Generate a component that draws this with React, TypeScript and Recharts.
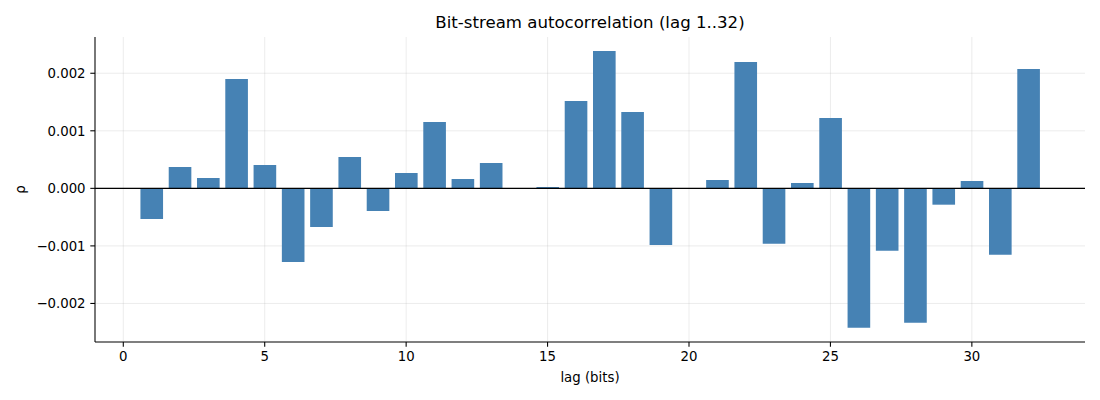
import React from 'react';
import { BarChart, Bar, XAxis, YAxis, CartesianGrid, ReferenceLine } from 'recharts';

const lags = [1, 2, 3, 4, 5, 6, 7, 8, 9, 10, 11, 12, 13, 14, 15, 16, 17, 18, 19, 20, 21, 22, 23, 24, 25, 26, 27, 28, 29, 30, 31, 32];
const rho = [
  -0.000533, 0.000371, 0.00018, 0.001901, 0.000406, -0.001281, -0.000672, 0.000545,
  -0.000394, 0.000267, 0.001154, 0.000162, 0.000441, 0.0, 0.000023, 0.001519,
  0.002388, 0.001328, -0.000986, 0.0, 0.000145, 0.002197, -0.000962, 0.000093,
  0.001223, -0.002423, -0.001084, -0.002336, -0.000284, 0.000128, -0.001154, 0.002075,
];
const xTicks = [0, 5, 10, 15, 20, 25, 30];
const yTicks = [-0.002, -0.001, 0, 0.001, 0.002];
const title = 'Bit-stream autocorrelation (lag 1..32)';
const xLabel = 'lag (bits)';
const yLabel = 'ρ';

const data = lags.map((lag, i) => ({ lag, rho: rho[i] }));

const FONT = '"DejaVu Sans", sans-serif';
const fmtY = (v: number) => {
  const s = (Math.abs(v) < 1e-12 ? 0 : v).toFixed(3);
  return s.replace('-', '\u2212');
};

export default function App() {
  return (
    <div style={{ position: 'absolute', left: 0, top: 0, width: 1100, height: 400, background: '#fff', fontFamily: FONT }}>
      <div
        style={{
          position: 'absolute',
          left: 95,
          width: 990,
          top: 14.5,
          textAlign: 'center',
          fontSize: 16.6,
          lineHeight: '16.6px',
          color: '#000',
          fontFamily: FONT,
        }}
      >
        {title}
      </div>
      <BarChart
        width={1100}
        height={400}
        data={data}
        margin={{ top: 37, right: 15, bottom: 0, left: 0 }}
        barCategoryGap={0}
      >
        <XAxis
          dataKey="lag"
          type="number"
          domain={[-1, 34]}
          ticks={xTicks}
          interval={0}
          allowDataOverflow
          height={58}
          tickSize={4.7}
          tickMargin={4.7}
          stroke="#000"
          axisLine={{ stroke: '#000', strokeWidth: 1.07 }}
          tickLine={{ stroke: '#000', strokeWidth: 1.07 }}
          tick={{ fill: '#000', fontSize: 13.3, fontFamily: FONT }}
          label={{
            content: (p: any) => {
              const vb = p.viewBox || { x: 95, y: 342, width: 990 };
              return (
                <text x={vb.x + vb.width / 2} y={vb.y + 39.7} textAnchor="middle" fontSize={13.3} fontFamily={FONT} fill="#000">
                  {xLabel}
                </text>
              );
            },
          }}
        />
        <YAxis
          type="number"
          domain={[-0.00267, 0.00263]}
          ticks={yTicks}
          interval={0}
          allowDataOverflow
          width={95}
          tickSize={4.7}
          tickMargin={4.7}
          tickFormatter={fmtY}
          axisLine={{ stroke: '#000', strokeWidth: 1.07 }}
          tickLine={{ stroke: '#000', strokeWidth: 1.07 }}
          tick={{ fill: '#000', fontSize: 13.3, fontFamily: FONT }}
          label={{
            content: (p: any) => {
              const vb = p.viewBox || { x: 0, y: 37, width: 95, height: 305 };
              const cx = 25;
              const cy = vb.y + vb.height / 2;
              return (
                <text x={cx} y={cy} transform={`rotate(-90, ${cx}, ${cy})`} textAnchor="middle" fontSize={13.3} fontFamily={FONT} fill="#000">
                  {yLabel}
                </text>
              );
            },
          }}
        />
        <Bar dataKey="rho" fill="#4682b4" barSize={22.63} isAnimationActive={false} />
        <CartesianGrid stroke="#b0b0b0" strokeOpacity={0.3} strokeWidth={0.8} verticalValues={xTicks} horizontalValues={yTicks} />
        <ReferenceLine y={0} stroke="#000" strokeWidth={1.07} />
      </BarChart>
    </div>
  );
}
